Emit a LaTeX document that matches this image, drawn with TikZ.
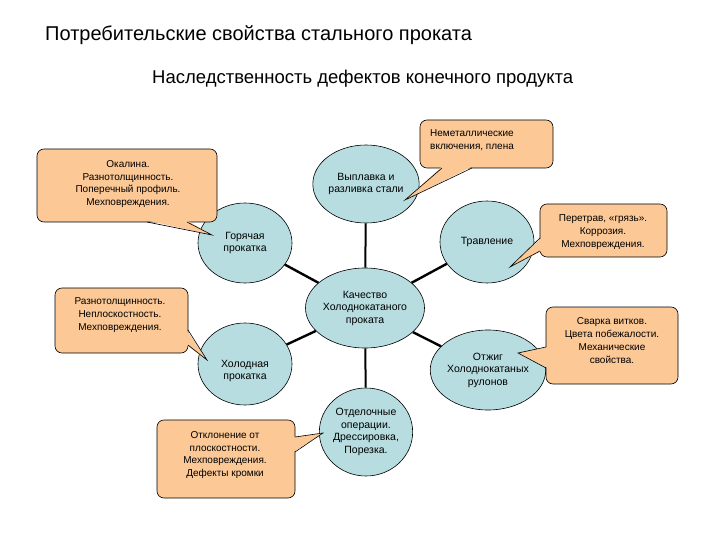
\documentclass[tikz,border=0pt]{standalone}
\usepackage{fontspec}
\setmainfont{Liberation Sans}
\usetikzlibrary{shapes.geometric}
\definecolor{circfill}{RGB}{183,221,224}
\definecolor{callfill}{RGB}{251,200,150}
\begin{document}
\begin{tikzpicture}[x=1pt,y=-1pt,
  stage/.style={ellipse, draw=black, line width=0.6pt, fill=circfill, inner sep=0pt, align=center, font=\fontsize{10.5}{12.5}\selectfont},
  link/.style={line width=2.4pt},
  vlink/.style={line width=2pt},
  callbox/.style={draw=black, line width=0.6pt, fill=callfill, rounded corners=7pt, inner sep=0pt},
  calltext/.style={align=center, font=\fontsize{10}{12.8}\selectfont, inner sep=0pt},
  tailedge/.style={draw=black, line width=0.6pt},
  titletext/.style={inner sep=0pt, anchor=west}]
\useasboundingbox (0,0) rectangle (720,540);
\fill[white] (0,0) rectangle (720,540);

% titles
\node[titletext, font=\fontsize{20}{24}\selectfont] (t1) at (45,35) {Потребительские свойства стального проката};
\node[titletext, font=\fontsize{18.5}{22}\selectfont] (t2) at (152,79) {Наследственность дефектов конечного продукта};

% stages
\node[stage, minimum width=92pt, minimum height=80pt] (Q) at (365,308) {Качество\\Холоднокатаного\\проката};
\node[stage, minimum width=94pt, minimum height=78pt] (V) at (366,184) {Выплавка и\\разливка стали};
\node[stage, minimum width=94pt, minimum height=80pt] (H) at (245,243) {Горячая\\прокатка};
\node[stage, minimum width=94pt, minimum height=82pt] (T) at (487,242) {Травление};
\node[stage, minimum width=94pt, minimum height=82pt] (C) at (245,364) {};
\node[stage, fill=none, draw=none] (Ct) at (245,371) {Холодная\\прокатка};
\node[stage, minimum width=92pt, minimum height=80pt] (O) at (488,370) {Отжиг\\Холоднокатаных\\рулонов};
\node[stage, minimum width=92pt, minimum height=88pt] (F) at (366,432) {Отделочные\\операции.\\Дрессировка,\\Порезка.};

% connectors
\draw[vlink] (Q) -- (V);
\draw[vlink] (Q) -- (F);
\draw[link] (Q) -- (H);
\draw[link] (Q) -- (T);
\draw[link] (Q) -- (C);
\draw[link] (Q) -- (O);

% callout 1: Окалина
\node[callbox, minimum width=180pt, minimum height=73pt] (k1) at (127,185.5) {};
\coordinate (k1a) at (147,222); \coordinate (k1b) at (187,222); \coordinate (k1t) at (212,235);
\fill[callfill] (147,220.5) -- (k1t) -- (187,220.5) -- cycle;
\draw[tailedge] (k1a) -- (k1t) -- (k1b);
\node[calltext] (k1x) at (128,184) {Окалина.\\Разнотолщинность.\\Поперечный профиль.\\Мехповреждения.};

% callout 2: Неметаллические
\node[callbox, minimum width=133pt, minimum height=48pt] (k2) at (486.5,144) {};
\coordinate (k2a) at (442,168); \coordinate (k2b) at (472,168); \coordinate (k2t) at (405,200);
\fill[callfill] (442,166.5) -- (k2t) -- (472,166.5) -- cycle;
\draw[tailedge] (k2a) -- (k2t) -- (k2b);
\node[calltext, align=left, anchor=west] (k2x) at (430,140.5) {Неметаллические\\включения, плена};

% callout 3: Перетрав
\node[callbox, minimum width=127pt, minimum height=53pt] (k3) at (603.5,230.5) {};
\coordinate (k3a) at (540,238); \coordinate (k3b) at (540,251); \coordinate (k3t) at (510,267);
\fill[callfill] (541.5,238) -- (k3t) -- (541.5,251) -- cycle;
\draw[tailedge] (k3a) -- (k3t) -- (k3b);
\node[calltext] (k3x) at (603,232) {Перетрав, «грязь».\\Коррозия.\\Мехповреждения.};

% callout 4: Разнотолщинность
\node[callbox, minimum width=133pt, minimum height=65pt] (k4) at (121.5,320.5) {};
\coordinate (k4a) at (188,330); \coordinate (k4b) at (188,345); \coordinate (k4t) at (207,360);
\fill[callfill] (186.5,330) -- (k4t) -- (186.5,345) -- cycle;
\draw[tailedge] (k4a) -- (k4t) -- (k4b);
\node[calltext] (k4x) at (120,315) {Разнотолщинность.\\Неплоскостность.\\Мехповреждения.};

% callout 5: Сварка
\node[callbox, minimum width=132pt, minimum height=77pt] (k5) at (612,345.5) {};
\coordinate (k5a) at (546,347); \coordinate (k5b) at (546,368); \coordinate (k5t) at (518,353);
\fill[callfill] (547.5,347) -- (k5t) -- (547.5,368) -- cycle;
\draw[tailedge] (k5a) -- (k5t) -- (k5b);
\node[calltext] (k5x) at (612,340.5) {Сварка витков.\\Цвета побежалости.\\Механические\\свойства.};

% callout 6: Отклонение
\node[callbox, minimum width=138pt, minimum height=78pt] (k6) at (226,459) {};
\coordinate (k6a) at (295,437); \coordinate (k6b) at (295,452); \coordinate (k6t) at (323,433);
\fill[callfill] (293.5,437) -- (k6t) -- (293.5,452) -- cycle;
\draw[tailedge] (k6a) -- (k6t) -- (k6b);
\node[calltext] (k6x) at (225,455) {Отклонение от\\плоскостности.\\Мехповреждения.\\Дефекты кромки};
\end{tikzpicture}
\end{document}
